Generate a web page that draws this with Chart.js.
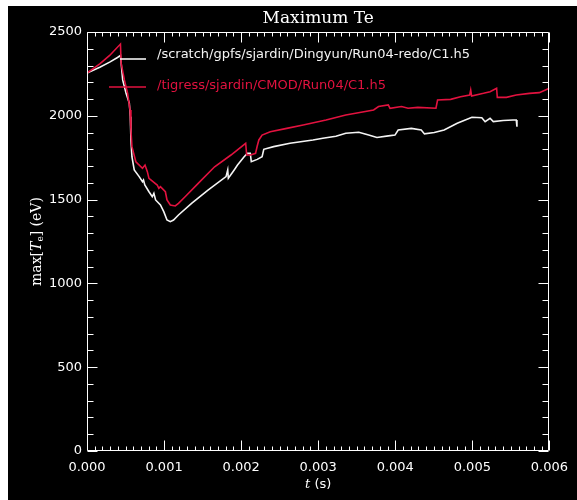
<!DOCTYPE html>
<html>
<head>
<meta charset="utf-8">
<style>
  html, body { margin: 0; padding: 0; background: #ffffff; }
  #wrap { width: 577px; height: 500px; }
</style>
<script src="https://cdn.jsdelivr.net/npm/chart.js@4/dist/chart.umd.min.js"></script>
</head>
<body>
<div id="wrap"><canvas id="c" width="577" height="500"></canvas></div>
<script>
// Time axis (s) and maximum electron temperature (eV) for the two runs
const tRun04redo = [0, 0.000166, 0.000294, 0.000396, 0.000434, 0.000463, 0.000507, 0.000549, 0.000562, 0.000570,
  0.000583, 0.000613, 0.000677, 0.000720, 0.000733, 0.000750, 0.000804, 0.000847, 0.000868, 0.000890,
  0.000953, 0.000996, 0.001038, 0.001081, 0.001123, 0.001187, 0.001357, 0.001570, 0.001804, 0.001826,
  0.001834, 0.001910, 0.001953, 0.002039, 0.002081, 0.002119, 0.002132, 0.002209, 0.002272, 0.002294,
  0.002422, 0.002634, 0.002932, 0.003060, 0.003230, 0.003358, 0.003527, 0.003655, 0.003762, 0.003910,
  0.003996, 0.004038, 0.004209, 0.004337, 0.004379, 0.004506, 0.004634, 0.004804, 0.004995, 0.005123,
  0.005166, 0.005230, 0.005272, 0.005400, 0.005528, 0.005570, 0.005579];
const teRun04redo = [2255, 2290, 2320, 2348, 2360, 2214, 2134, 2075, 1995, 1856,
  1756, 1677, 1637, 1607, 1617, 1587, 1547, 1517, 1537, 1498,
  1468, 1428, 1378, 1368, 1378, 1408, 1478, 1557, 1637, 1677,
  1627, 1677, 1706, 1756, 1776, 1776, 1726, 1740, 1756, 1800,
  1816, 1836, 1856, 1866, 1878, 1896, 1902, 1885, 1871, 1880,
  1885, 1915, 1925, 1915, 1892, 1900, 1915, 1955, 1991, 1988,
  1965, 1985, 1965, 1972, 1975, 1975, 1935];

const tCmod = [0, 0.000166, 0.000294, 0.000434, 0.000443, 0.000485, 0.000527, 0.000558, 0.000570, 0.000583,
  0.000634, 0.000720, 0.000753, 0.000783, 0.000804, 0.000911, 0.000932, 0.000953, 0.001017, 0.001038,
  0.001081, 0.001145, 0.001187, 0.001273, 0.001443, 0.001656, 0.001868, 0.002059, 0.002072, 0.002123,
  0.002187, 0.002209, 0.002230, 0.002272, 0.002378, 0.002592, 0.002805, 0.003102, 0.003358, 0.003485,
  0.003719, 0.003783, 0.003910, 0.003932, 0.004081, 0.004166, 0.004293, 0.004528, 0.004549, 0.004719,
  0.004847, 0.004966, 0.004979, 0.004991, 0.005145, 0.005230, 0.005315, 0.005324, 0.005442, 0.005570,
  0.005741, 0.005869, 0.006000];
const teCmod = [2255, 2310, 2360, 2428, 2313, 2214, 2134, 2035, 1915, 1816,
  1726, 1687, 1706, 1667, 1627, 1587, 1567, 1577, 1547, 1498,
  1468, 1462, 1478, 1517, 1597, 1696, 1766, 1836, 1766, 1766,
  1776, 1820, 1856, 1885, 1905, 1925, 1945, 1975, 2005, 2015,
  2035, 2055, 2065, 2045, 2055, 2045, 2050, 2045, 2094, 2098,
  2114, 2124, 2154, 2118, 2134, 2144, 2164, 2110, 2110, 2124,
  2134, 2138, 2164];

const seriesNames = ['/scratch/gpfs/sjardin/Dingyun/Run04-redo/C1.h5', '/tigress/sjardin/CMOD/Run04/C1.h5'];
const xTickValues = [0, 0.001, 0.002, 0.003, 0.004, 0.005, 0.006];
const yTickValues = [0, 500, 1000, 1500, 2000, 2500];

const WHITE = '#f4f4f4';
const RED = '#e2123f';

const toPoints = (ts, vs) => ts.map((t, i) => ({ x: t, y: vs[i] }));

// Black panel, boxed frame with inward major/minor ticks, titles and legend
const panelPlugin = {
  id: 'panel',
  beforeDraw(chart) {
    const ctx = chart.ctx;
    ctx.save();
    ctx.fillStyle = '#000000';
    ctx.fillRect(8, 6, 569, 494);
    ctx.restore();
  },
  afterDraw(chart) {
    const { ctx, chartArea: a, scales: { x, y } } = chart;
    const L = Math.round(a.left) + 0.5, R = Math.round(a.right) - 0.5;
    const T = Math.round(a.top) + 0.5, B = Math.round(a.bottom) - 0.5;
    ctx.save();
    ctx.strokeStyle = '#ffffff';
    ctx.lineWidth = 1;
    ctx.beginPath();
    ctx.rect(L, T, R - L, B - T);
    // x ticks: minor every 0.0001, major every 0.001
    for (let i = 0; i <= 60; i++) {
      const px = Math.round(x.getPixelForValue(i * 0.0001)) + 0.5;
      const len = i % 10 === 0 ? 10 : 4;
      ctx.moveTo(px, B); ctx.lineTo(px, B - len);
      ctx.moveTo(px, T); ctx.lineTo(px, T + len);
    }
    // y ticks: minor every 100, major every 500
    for (let j = 0; j <= 25; j++) {
      const py = Math.round(y.getPixelForValue(j * 100)) + 0.5;
      const len = j % 5 === 0 ? 10 : 6;
      ctx.moveTo(L, py); ctx.lineTo(L + len, py);
      ctx.moveTo(R, py); ctx.lineTo(R - len, py);
    }
    ctx.stroke();

    // title
    ctx.fillStyle = '#ffffff';
    ctx.textAlign = 'center';
    ctx.textBaseline = 'middle';
    ctx.font = '17px "DejaVu Serif"';
    ctx.fillText('Maximum Te', (a.left + a.right) / 2, 19);

    // x axis title: italic t followed by (s)
    ctx.textAlign = 'left';
    ctx.font = 'italic 13px "DejaVu Serif"';
    const tW = ctx.measureText('t').width;
    ctx.font = '13px "DejaVu Sans"';
    const sW = ctx.measureText(' (s)').width;
    const cx = (a.left + a.right) / 2 - (tW + sW) / 2;
    ctx.font = 'italic 13px "DejaVu Serif"';
    ctx.fillText('t', cx, 485);
    ctx.font = '13px "DejaVu Sans"';
    ctx.fillText(' (s)', cx + tW, 485);

    // y axis title: max[T_e] (eV), rotated
    ctx.save();
    ctx.translate(37, (a.top + a.bottom) / 2);
    ctx.rotate(-Math.PI / 2);
    const parts = [
      { s: 'max[', f: '14px "DejaVu Serif"', dy: 0 },
      { s: 'T', f: 'italic 14px "DejaVu Serif"', dy: 0 },
      { s: 'e', f: '9px "DejaVu Serif"', dy: 4 },
      { s: '] (eV)', f: '14px "DejaVu Serif"', dy: 0 }
    ];
    let total = 0;
    parts.forEach(p => { ctx.font = p.f; p.w = ctx.measureText(p.s).width; total += p.w; });
    let ox = -total / 2;
    parts.forEach(p => { ctx.font = p.f; ctx.fillText(p.s, ox, p.dy); ox += p.w; });
    ctx.restore();

    // legend
    ctx.font = '13px "DejaVu Sans"';
    ctx.lineWidth = 1.6;
    ctx.strokeStyle = WHITE;
    ctx.beginPath(); ctx.moveTo(120, 59); ctx.lineTo(146, 59); ctx.stroke();
    ctx.fillStyle = WHITE;
    ctx.fillText(seriesNames[0], 157, 55);
    ctx.strokeStyle = RED;
    ctx.beginPath(); ctx.moveTo(109, 87); ctx.lineTo(146, 87); ctx.stroke();
    ctx.fillStyle = RED;
    ctx.fillText(seriesNames[1], 157, 86);
    ctx.restore();
  }
};

new Chart(document.getElementById('c'), {
  type: 'line',
  data: {
    datasets: [
      { label: seriesNames[1], data: toPoints(tCmod, teCmod), borderColor: RED, borderWidth: 1.6,
        pointRadius: 0, tension: 0, fill: false },
      { label: seriesNames[0], data: toPoints(tRun04redo, teRun04redo), borderColor: WHITE, borderWidth: 1.6,
        pointRadius: 0, tension: 0, fill: false }
    ]
  },
  options: {
    responsive: false,
    devicePixelRatio: 1,
    animation: false,
    layout: { padding: { left: 8, right: 20, top: 32, bottom: 0 } },
    plugins: { legend: { display: false }, tooltip: { enabled: false }, title: { display: false } },
    scales: {
      x: {
        type: 'linear', min: 0, max: 0.006,
        afterBuildTicks(scale) { scale.ticks = xTickValues.map(v => ({ value: v })); },
        afterFit(scale) { scale.height = 49; },
        grid: { display: false, drawTicks: false },
        border: { display: false },
        ticks: { color: '#ffffff', padding: 9, maxRotation: 0, autoSkip: false,
          font: { family: 'DejaVu Sans', size: 13 },
          callback: v => Number(v).toFixed(3) }
      },
      y: {
        type: 'linear', min: 0, max: 2500,
        afterBuildTicks(scale) { scale.ticks = yTickValues.map(v => ({ value: v })); },
        afterFit(scale) { scale.width = 79; },
        grid: { display: false, drawTicks: false },
        border: { display: false },
        ticks: { color: '#ffffff', padding: 5,
          font: { family: 'DejaVu Sans', size: 13 },
          callback: v => String(v) }
      }
    }
  },
  plugins: [panelPlugin]
});
</script>
</body>
</html>
